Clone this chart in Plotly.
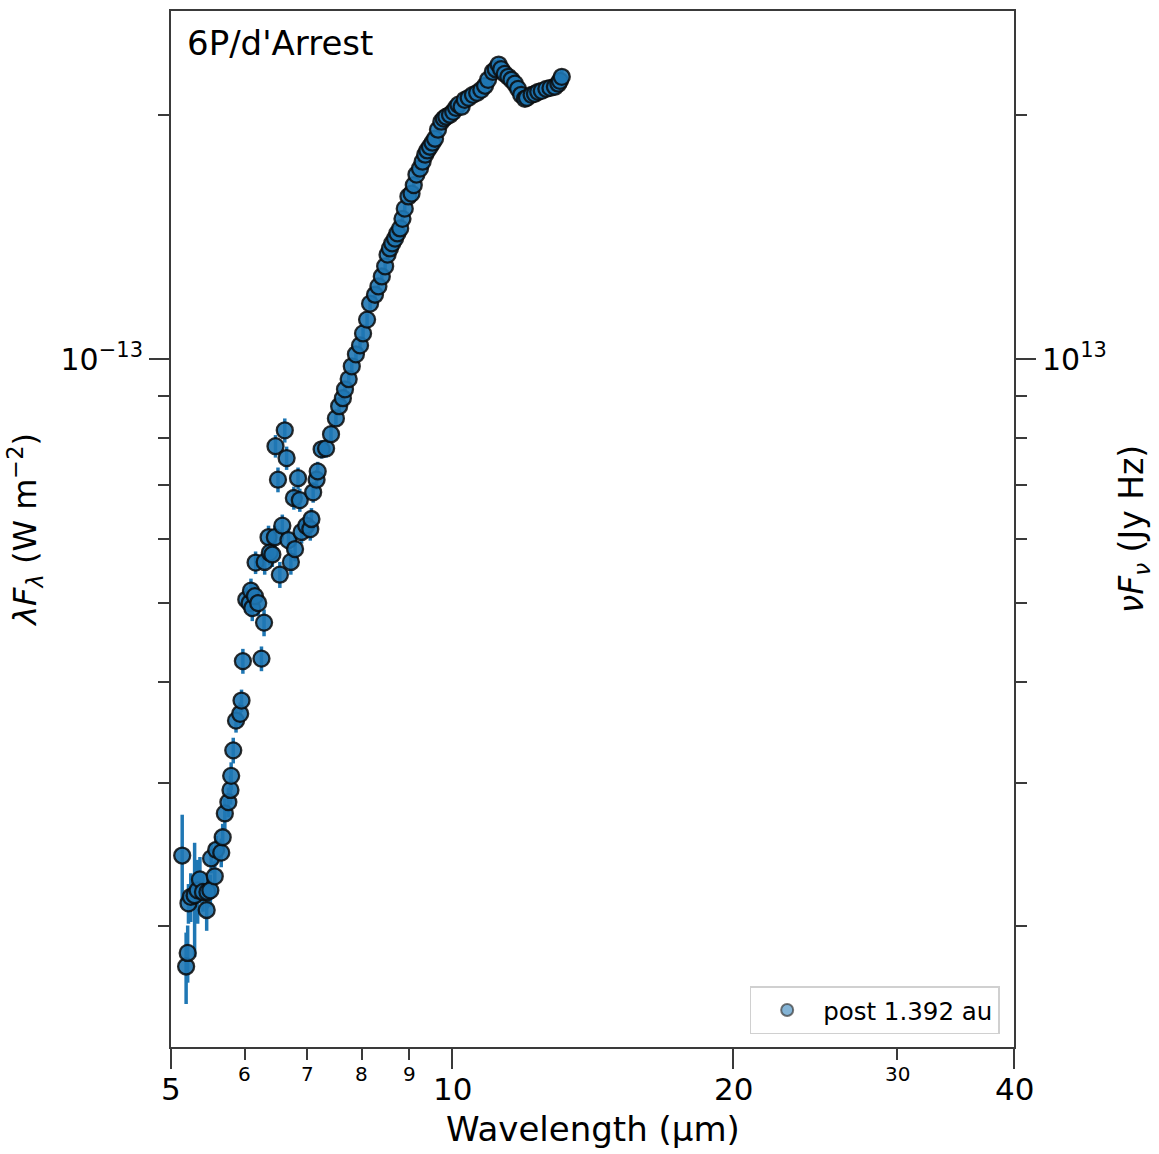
import plotly.graph_objects as go
import numpy as np

# ---- data ----
wavelength_um = [5.14, 5.19, 5.21, 5.22, 5.25, 5.30, 5.34, 5.37, 5.41, 5.46,
                 5.47, 5.51, 5.52, 5.57, 5.59, 5.66, 5.68, 5.71, 5.76, 5.79,
                 5.80, 5.83, 5.87, 5.93, 5.95, 5.97, 6.02, 6.07, 6.09, 6.11,
                 6.15, 6.16, 6.20, 6.25, 6.29, 6.30, 6.36, 6.38, 6.42, 6.46,
                 6.47, 6.51, 6.54, 6.58, 6.62, 6.65, 6.68, 6.72, 6.77, 6.79,
                 6.84, 6.87, 6.90, 6.98, 7.05, 7.07, 7.10, 7.16, 7.18, 7.25,
                 7.33, 7.42, 7.51, 7.57, 7.64, 7.68, 7.75, 7.81, 7.89, 7.97,
                 8.03, 8.11, 8.17, 8.27, 8.34, 8.41, 8.48, 8.53, 8.58, 8.63,
                 8.69, 8.74, 8.80, 8.85, 8.90, 8.98, 9.05, 9.10, 9.16, 9.24,
                 9.30, 9.36, 9.41, 9.47, 9.53, 9.59, 9.66, 9.74, 9.80, 9.86,
                 9.95, 10.03, 10.10, 10.16, 10.24, 10.32, 10.42, 10.53, 10.64, 10.75,
                 10.85, 10.93, 11.06, 11.14, 11.22, 11.29, 11.39, 11.49, 11.58, 11.68,
                 11.77, 11.86, 11.97, 12.03, 12.17, 12.27, 12.37, 12.48, 12.62, 12.75,
                 12.89, 13.00, 13.05, 13.11]
# lambda F_lambda in units of 1e-14 W m^-2
flux_e14 = [2.44, 1.78, 1.85, 2.13, 2.17, 2.18, 2.21, 2.28, 2.20, 2.09,
            2.20, 2.21, 2.42, 2.30, 2.48, 2.46, 2.57, 2.75, 2.84, 2.94,
            3.06, 3.29, 3.58, 3.65, 3.79, 4.24, 5.05, 5.00, 5.18, 4.93,
            5.10, 5.61, 5.00, 4.27, 4.73, 5.62, 6.03, 5.77, 5.74, 6.03,
            7.81, 7.10, 5.42, 6.23, 8.17, 7.55, 5.98, 5.62, 6.74, 5.83,
            7.13, 6.70, 6.12, 6.23, 6.17, 6.35, 6.85, 7.10, 7.27, 7.74,
            7.76, 8.08, 8.45, 8.75, 8.95, 9.18, 9.45, 9.80, 10.14, 10.40,
            10.76, 11.19, 11.71, 12.01, 12.30, 12.65, 13.02, 13.46, 13.70, 13.90,
            14.09, 14.30, 14.50, 14.90, 15.34, 15.88, 16.01, 16.40, 16.90, 17.19,
            17.53, 17.88, 18.10, 18.29, 18.50, 18.71, 19.20, 19.64, 19.81, 19.92,
            20.03, 20.20, 20.43, 20.61, 20.49, 20.90, 21.02, 21.20, 21.32, 21.50,
            21.75, 22.12, 22.63, 22.80, 23.10, 22.80, 22.50, 22.31, 22.12, 21.88,
            21.56, 21.20, 20.96, 21.02, 21.20, 21.26, 21.38, 21.44, 21.56, 21.62,
            21.69, 21.88, 22.06, 22.31]
flux_err_e14 = [0.30, 0.18, 0.15, 0.12, 0.15, 0.35, 0.20, 0.15, 0.12, 0.12,
                0.10, 0.10, 0.10, 0.10, 0.10, 0.10, 0.10, 0.12, 0.12, 0.12,
                0.12, 0.12, 0.12, 0.12, 0.12, 0.15, 0.18, 0.18, 0.18, 0.18,
                0.18, 0.18, 0.18, 0.15, 0.18, 0.20, 0.20, 0.20, 0.20, 0.20,
                0.25, 0.25, 0.20, 0.20, 0.28, 0.25, 0.20, 0.20, 0.22, 0.20,
                0.22, 0.22, 0.20, 0.20, 0.20, 0.20, 0.20, 0.20, 0.20, 0.20,
                0.20, 0.20, 0.18, 0.18, 0.18, 0.18, 0.18, 0.18, 0.18, 0.18,
                0.18, 0.20, 0.20, 0.20, 0.20, 0.20, 0.20, 0.20, 0.20, 0.20,
                0.20, 0.22, 0.25, 0.25, 0.25, 0.25, 0.25, 0.28, 0.30, 0.30,
                0.30, 0.30, 0.30, 0.30, 0.32, 0.35, 0.35, 0.35, 0.38, 0.40,
                0.40, 0.40, 0.40, 0.40, 0.40, 0.40, 0.42, 0.45, 0.45, 0.45,
                0.45, 0.45, 0.45, 0.45, 0.45, 0.45, 0.45, 0.45, 0.45, 0.45,
                0.45, 0.45, 0.45, 0.45, 0.45, 0.45, 0.45, 0.45, 0.45, 0.45,
                0.45, 0.45, 0.45, 0.45]

series_label = "post 1.392 au"
title_text = "6P/d'Arrest"
x_title = "Wavelength (µm)"

x_major_ticks = [5, 10, 20, 40]
x_minor_ticks = [6, 7, 8, 9, 30]
y_major_ticks = [1e-13]
y_minor_ticks = [2e-14, 3e-14, 4e-14, 5e-14, 6e-14, 7e-14, 8e-14, 9e-14, 2e-13]
x_range = [5, 40]
y_range = [1.416e-14, 2.69e-13]
JY_HZ_PER_W_M2 = 1e26  # 1 Jy Hz = 1e-26 W m^-2

# ---- figure ----
wl = np.array(wavelength_um)
flux = np.array(flux_e14) * 1e-14
err = np.array(flux_err_e14) * 1e-14

FONT = "DejaVu Sans"
blue = "#1f77b4"
axis_line = "#3a3a3a"

fig = go.Figure()
fig.add_trace(go.Scatter(
    x=wl, y=flux, mode="markers", name=series_label, showlegend=False,
    marker=dict(size=16, color="rgba(31,119,180,0.9)",
                line=dict(color="rgba(10,10,10,0.85)", width=2.3)),
    error_y=dict(type="data", array=err, visible=True, color=blue,
                 thickness=3.5, width=0),
))
# legend entry (lighter, like the reference legend symbol)
fig.add_trace(go.Scatter(
    x=[None], y=[None], mode="markers", name=series_label,
    marker=dict(size=13, color="rgba(31,119,180,0.55)",
                line=dict(color="rgba(60,60,60,0.7)", width=1.5)),
))
# twin axis trace (nu F_nu in Jy Hz), invisible
fig.add_trace(go.Scatter(
    x=wl, y=flux * JY_HZ_PER_W_M2, yaxis="y2", mode="markers",
    marker=dict(size=1, opacity=0), showlegend=False, hoverinfo="skip",
))

fig.update_layout(
    width=1159, height=1154,
    margin=dict(l=171, r=145, t=9, b=107),
    paper_bgcolor="white", plot_bgcolor="white",
    font=dict(family=FONT, color="black"),
    showlegend=True,
    legend=dict(x=0.983, y=0.0125, xanchor="right", yanchor="bottom",
                bgcolor="white", bordercolor="#d0d0d0", borderwidth=1.5,
                font=dict(size=24.5, family=FONT), itemwidth=62,
                itemsizing="constant"),
    xaxis=dict(
        type="log", range=[np.log10(x_range[0]), np.log10(x_range[1])],
        tickvals=x_major_ticks, showticklabels=False,
        ticks="outside", ticklen=20, tickwidth=2, tickcolor=axis_line,
        minor=dict(tickvals=x_minor_ticks, ticks="outside", ticklen=11,
                   tickwidth=2, tickcolor=axis_line, showgrid=False),
        showgrid=False, zeroline=False,
        showline=True, linecolor=axis_line, linewidth=2, mirror=True,
    ),
    yaxis=dict(
        type="log", range=[np.log10(y_range[0]), np.log10(y_range[1])],
        tickvals=y_major_ticks, ticktext=["10<sup>−13</sup>"],
        ticks="outside", ticklen=20, tickwidth=2, tickcolor=axis_line,
        tickfont=dict(size=30, family=FONT),
        minor=dict(tickvals=y_minor_ticks, ticks="outside", ticklen=11,
                   tickwidth=2, tickcolor=axis_line, showgrid=False),
        showgrid=False, zeroline=False,
        showline=True, linecolor=axis_line, linewidth=2,
        title=dict(text="<i>λF<sub>λ</sub></i> (W m<sup>−2</sup>)",
                   font=dict(size=32, family=FONT), standoff=14),
    ),
    yaxis2=dict(
        type="log", overlaying="y", side="right",
        range=[np.log10(y_range[0] * JY_HZ_PER_W_M2), np.log10(y_range[1] * JY_HZ_PER_W_M2)],
        tickvals=[v * JY_HZ_PER_W_M2 for v in y_major_ticks], ticktext=["10<sup>13</sup>"],
        ticks="outside", ticklen=20, tickwidth=2, tickcolor=axis_line,
        tickfont=dict(size=30, family=FONT),
        minor=dict(tickvals=[v * JY_HZ_PER_W_M2 for v in y_minor_ticks], ticks="outside",
                   ticklen=11, tickwidth=2, tickcolor=axis_line, showgrid=False),
        showgrid=False, zeroline=False,
        showline=True, linecolor=axis_line, linewidth=2,
        title=dict(text="<i>νF<sub>ν</sub></i> (Jy Hz)",
                   font=dict(size=33, family=FONT), standoff=14),
    ),
)

# wavelength tick labels: large for major, small for minor
for v in x_major_ticks:
    fig.add_annotation(x=np.log10(v), y=0, xref="x", yref="paper",
                       text=str(v), showarrow=False, yanchor="middle",
                       yshift=-42, font=dict(size=31, family=FONT, color="black"))
for v in x_minor_ticks:
    fig.add_annotation(x=np.log10(v), y=0, xref="x", yref="paper",
                       text=str(v), showarrow=False, yanchor="middle",
                       yshift=-27, font=dict(size=20, family=FONT, color="black"))
fig.add_annotation(x=0.5, y=0, xref="paper", yref="paper",
                   text=x_title, showarrow=False, yanchor="middle",
                   yshift=-82, font=dict(size=34, family=FONT, color="black"))

fig.add_annotation(x=0, y=1, xref="paper", yref="paper", xanchor="left", yanchor="top",
                   text=title_text, showarrow=False, xshift=14, yshift=-10,
                   font=dict(size=34, family=FONT, color="black"))

fig.write_html("out.html")
